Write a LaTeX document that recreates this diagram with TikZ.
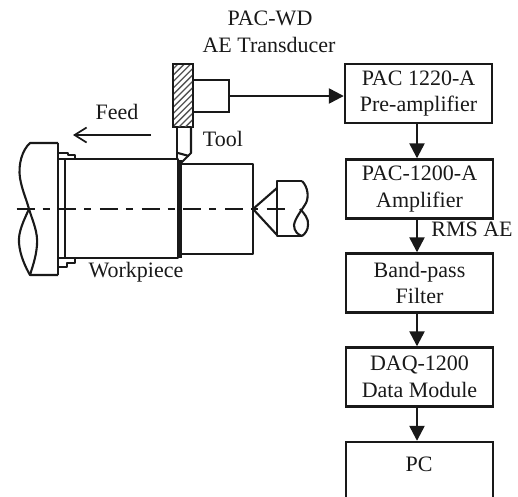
\documentclass[tikz,border=0pt]{standalone}
\usepackage{fontspec}
\setmainfont{Liberation Serif}
\usetikzlibrary{arrows.meta}
\tikzset{
  blockbox/.style={draw=ink,line width=2.4pt,minimum width=147pt,minimum height=59pt,inner sep=0pt,align=center,font=\fontsize{22}{26.5}\selectfont,text=ink},
  label/.style={inner sep=0pt,align=center,font=\fontsize{22}{27}\selectfont,text=ink},
  part/.style={draw=ink,line width=2.1pt,line join=round},
  flow/.style={draw=ink,line width=2.4pt,-{Triangle[length=15pt,width=15pt,fill=ink]}},
  feedarrow/.style={draw=ink,line width=1.7pt,-{Straight Barb[length=12pt,width=15pt,line width=1.7pt]}},
  axis/.style={draw=ink,line width=1.8pt,dash pattern=on 18pt off 8pt on 7pt off 8.7pt}
}
\definecolor{ink}{gray}{0.1}
\begin{document}
\begin{tikzpicture}[x=1pt,y=-1pt]
\useasboundingbox (0,0) rectangle (518,496);
\clip (0,0) rectangle (518,496);
% blocks
\node[blockbox] (b1) at (418.5,93.5) {PAC 1220-A\\Pre-amplifier};
\node[blockbox] (b2) at (419.5,189) {PAC-1200-A\\Amplifier};
\node[blockbox] (b3) at (419.5,283) {Band-pass\\Filter};
\node[blockbox] (b4) at (419.5,377) {DAQ-1200\\Data Module};
\node[blockbox,minimum height=70pt] (b5) at (419.5,477) {};
\node[label] (pc) at (419,464) {PC};
% texts
\node[label] (t1) at (270,18) {PAC-WD};
\node[label] (t2) at (269,45) {AE Transducer};
\node[label] (t3) at (117,112) {Feed};
\node[label] (t4) at (223,139) {Tool};
\node[label] (t5) at (136,272) {Workpiece};
\node[label] (t6) at (472,229) {RMS AE};
% holder and transducer
\node[draw=ink,line width=2.1pt,minimum width=36pt,minimum height=32pt,inner sep=0pt] (trans) at (211,96) {};
\node[draw=ink,fill=white,line width=2.1pt,minimum width=20pt,minimum height=63pt,inner sep=0pt] (holder) at (183,95.5) {};
\begin{scope}
\clip (174,65) rectangle (192,126);
\foreach \k in {0,...,16} \draw[ink!75,line width=1.3pt] (170,{72+\k*6.4}) -- (196,{46+\k*6.4});
\end{scope}
% tool
\draw[part] (holder.south -| 177,0) -- (177,160);
\draw[part] (191,127) -- (191,153) -- (182,162) -- (178,162);
\draw[part] (178,153) -- (189,156);
% workpiece
\draw[part] (65,159) rectangle (178,258);
\draw[part] (181,164) -- (253,164) -- (253,254) -- (181,254);
\draw[ink,line width=3.8pt] (180,160) -- (180,258);
% chuck
\draw[part] (58,143) -- (58,275);
\draw[part] (58,143) -- (30,143) .. controls (22,150) and (18,165) .. (20,178) .. controls (22,190) and (26,198) .. (29,209) .. controls (33,222) and (38,232) .. (37,245) .. controls (36,258) and (32,268) .. (30,275) -- (58,275);
\draw[part] (29,209) .. controls (24,220) and (18,232) .. (19,243) .. controls (20,256) and (26,268) .. (30,275);
\draw[part] (58,153) -- (68,153) -- (68,155) -- (75,155) -- (75,159);
\draw[part] (58,267) -- (67,267) -- (67,263) -- (75,263) -- (75,258);
\draw[part] (58,159) -- (65,159) (58,258) -- (65,258);
% tailstock
\draw[part] (253,209) -- (277,188) (253,209) -- (277,235);
\draw[part] (302,181) -- (277,181) -- (277,236) -- (302,236);
\draw[part] (302,181) .. controls (308,187) and (309,197) .. (306,203) .. controls (302,210) and (295,218) .. (294,225) .. controls (294,231) and (298,235) .. (302,236);
\draw[part] (300,209) .. controls (304,213) and (309,219) .. (308,225) .. controls (308,230) and (305,234) .. (302,236);
% centre line
\draw[axis] (16.5,209) -- (285,209);
% connectors
\coordinate (feedstart) at (151,135);
\coordinate (feedend) at (73,135);
\draw[feedarrow] (feedstart) -- (feedend);
\draw[flow] (trans.east) -- (trans.east -| b1.west);
\draw[flow] (b1.south -| 417,0) -- (b2.north -| 417,0);
\draw[flow] (b2.south -| 417,0) -- (b3.north -| 417,0);
\draw[flow] (b3.south -| 417,0) -- (b4.north -| 417,0);
\draw[flow] (b4.south -| 417,0) -- (b5.north -| 417,0);
\end{tikzpicture}
\end{document}
